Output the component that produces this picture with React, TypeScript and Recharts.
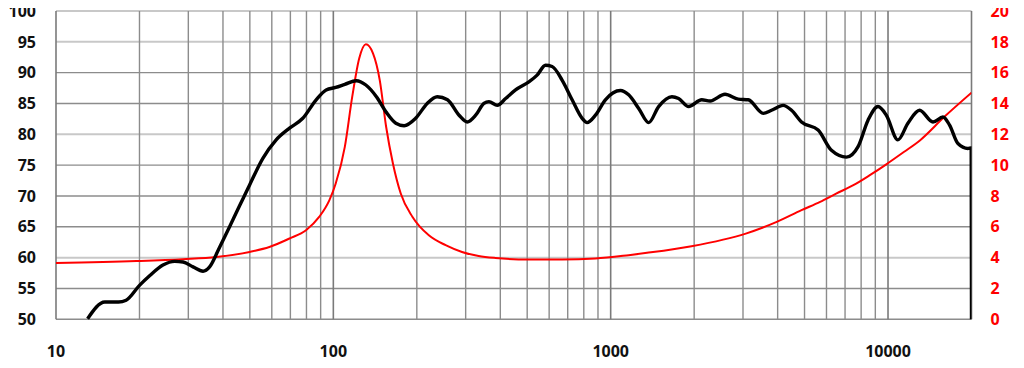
import React from "react";
import { ComposedChart, Line, XAxis, YAxis, ReferenceLine } from "recharts";

const splFreq = [13, 15, 16.8, 17.9, 20, 21.8, 24.3, 26.8, 28.7, 31.2, 33.9, 35.8, 38.9, 43.4, 49.9, 55.7, 62.2, 69.5, 77.6, 86.7, 94.2, 102, 110, 121, 131, 143, 155, 168, 180, 198, 218, 237, 258, 284, 304, 326, 349, 364, 390, 418, 454, 507, 543, 582, 615, 668, 726, 789, 822, 881, 957, 1084, 1161, 1262, 1371, 1489, 1663, 1758, 1910, 2130, 2282, 2584, 2884, 3133, 3548, 3802, 4188, 4487, 4875, 5598, 6252, 7082, 7799, 8472, 9204, 9862, 10856, 11796, 12996, 14525, 15779, 16672, 17870, 19400, 19950, 20000];
const splDb = [50.1, 52.8, 52.8, 53.1, 55.5, 57.1, 58.8, 59.4, 59.3, 58.5, 57.8, 58.5, 61.7, 66.1, 71.8, 76.1, 79.1, 81.0, 82.6, 85.6, 87.2, 87.6, 88.1, 88.7, 88.0, 86.1, 83.6, 81.8, 81.4, 82.6, 85.0, 86.1, 85.6, 83.1, 82.0, 83.1, 85.0, 85.3, 84.7, 85.8, 87.2, 88.5, 89.6, 91.2, 91.0, 88.8, 85.6, 82.6, 81.9, 83.1, 85.6, 87.1, 86.4, 84.2, 81.9, 84.5, 86.1, 85.8, 84.5, 85.6, 85.4, 86.5, 85.7, 85.6, 83.4, 83.9, 84.7, 83.9, 82.0, 80.7, 77.4, 76.3, 78.0, 82.3, 84.5, 83.1, 79.1, 81.8, 83.9, 82.0, 82.8, 81.5, 78.5, 77.7, 77.8, 50];

const impFreq = [10, 19.5, 28.7, 37.9, 49.9, 58.8, 69.5, 79.7, 88.9, 96.8, 102, 110, 117, 124, 131, 139, 147, 155, 164, 175, 193, 221, 254, 291, 334, 384, 507, 668, 881, 1161, 1352, 1957, 3070, 3970, 4875, 5690, 6500, 7500, 8600, 9890, 11400, 13060, 16000, 20000];
const impOhm = [3.66, 3.78, 3.9, 4.04, 4.37, 4.69, 5.24, 5.78, 6.64, 7.73, 8.81, 11.19, 14.44, 16.93, 17.84, 17.25, 15.52, 12.49, 10.11, 8.16, 6.64, 5.45, 4.81, 4.37, 4.11, 3.98, 3.88, 3.88, 3.94, 4.16, 4.31, 4.74, 5.56, 6.32, 7.08, 7.62, 8.15, 8.7, 9.35, 10.07, 10.85, 11.62, 13.15, 14.7];

const xTicks = [10, 100, 1000, 10000];
const leftTicks = [50, 55, 60, 65, 70, 75, 80, 85, 90, 95, 100];
const rightTicks = [0, 2, 4, 6, 8, 10, 12, 14, 16, 18, 20];
const minorFreqs = [20, 30, 40, 50, 60, 70, 80, 90, 200, 300, 400, 500, 600, 700, 800, 900, 2000, 3000, 4000, 5000, 6000, 7000, 8000, 9000];
const decadeFreqs = [10, 100, 1000, 10000, 20000];
const lightLevels = [60, 80, 95, 100];
const darkLevels = [50, 55, 65, 70, 75, 85, 90];

const splData = splFreq.map((f, i) => ({ f, v: splDb[i] }));
const impData = impFreq.map((f, i) => ({ f, z: impOhm[i] }));

const font = "'Open Sans', 'DejaVu Sans', sans-serif";

export default function App() {
  return (
    <div style={{ marginLeft: -8, marginTop: -8, width: 1024, height: 368 }}>
      <ComposedChart width={1024} height={368} margin={{ top: 11, right: 0, bottom: 0, left: 0 }}>
        <XAxis
          dataKey="f"
          type="number"
          scale="log"
          domain={[10, 20000]}
          ticks={xTicks}
          allowDataOverflow
          axisLine={false}
          tickLine={false}
          tickSize={0}
          tickMargin={26}
          height={48.7}
          interval={0}
          tick={{ fill: "#111", fontSize: 16, fontWeight: 700, fontFamily: font }}
        />
        <YAxis
          yAxisId="spl"
          domain={[50, 100]}
          ticks={leftTicks}
          interval={0}
          width={56}
          axisLine={false}
          tickLine={false}
          tickSize={0}
          tickMargin={20}
          tick={{ fill: "#111", fontSize: 16, fontWeight: 700, fontFamily: font }}
        />
        <YAxis
          yAxisId="imp"
          orientation="right"
          domain={[0, 20]}
          ticks={rightTicks}
          interval={0}
          width={52.5}
          axisLine={false}
          tickLine={false}
          tickSize={0}
          tickMargin={19}
          tick={{ fill: "#ff0000", fontSize: 16, fontWeight: 700, fontFamily: font, textAnchor: "start" }}
        />
        {lightLevels.map((y) => (
          <ReferenceLine key={"l" + y} yAxisId="spl" y={y} stroke="#c8c8c8" strokeWidth={2} />
        ))}
        {darkLevels.map((y) => (
          <ReferenceLine key={"d" + y} yAxisId="spl" y={y} stroke="#8c8c8c" strokeWidth={1.4} />
        ))}
        {minorFreqs.map((f) => (
          <ReferenceLine key={"m" + f} yAxisId="spl" x={f} stroke="#8c8c8c" strokeWidth={1.4} />
        ))}
        {decadeFreqs.map((f) => (
          <ReferenceLine key={"D" + f} yAxisId="spl" x={f} stroke="#7a7a7a" strokeWidth={1.6} />
        ))}
        <Line
          yAxisId="imp"
          data={impData}
          dataKey="z"
          type="monotone"
          stroke="#ff0000"
          strokeWidth={2}
          dot={false}
          isAnimationActive={false}
        />
        <Line
          yAxisId="spl"
          data={splData}
          dataKey="v"
          type="monotone"
          stroke="#000000"
          strokeWidth={3.4}
          dot={false}
          isAnimationActive={false}
        />
      </ComposedChart>
    </div>
  );
}
